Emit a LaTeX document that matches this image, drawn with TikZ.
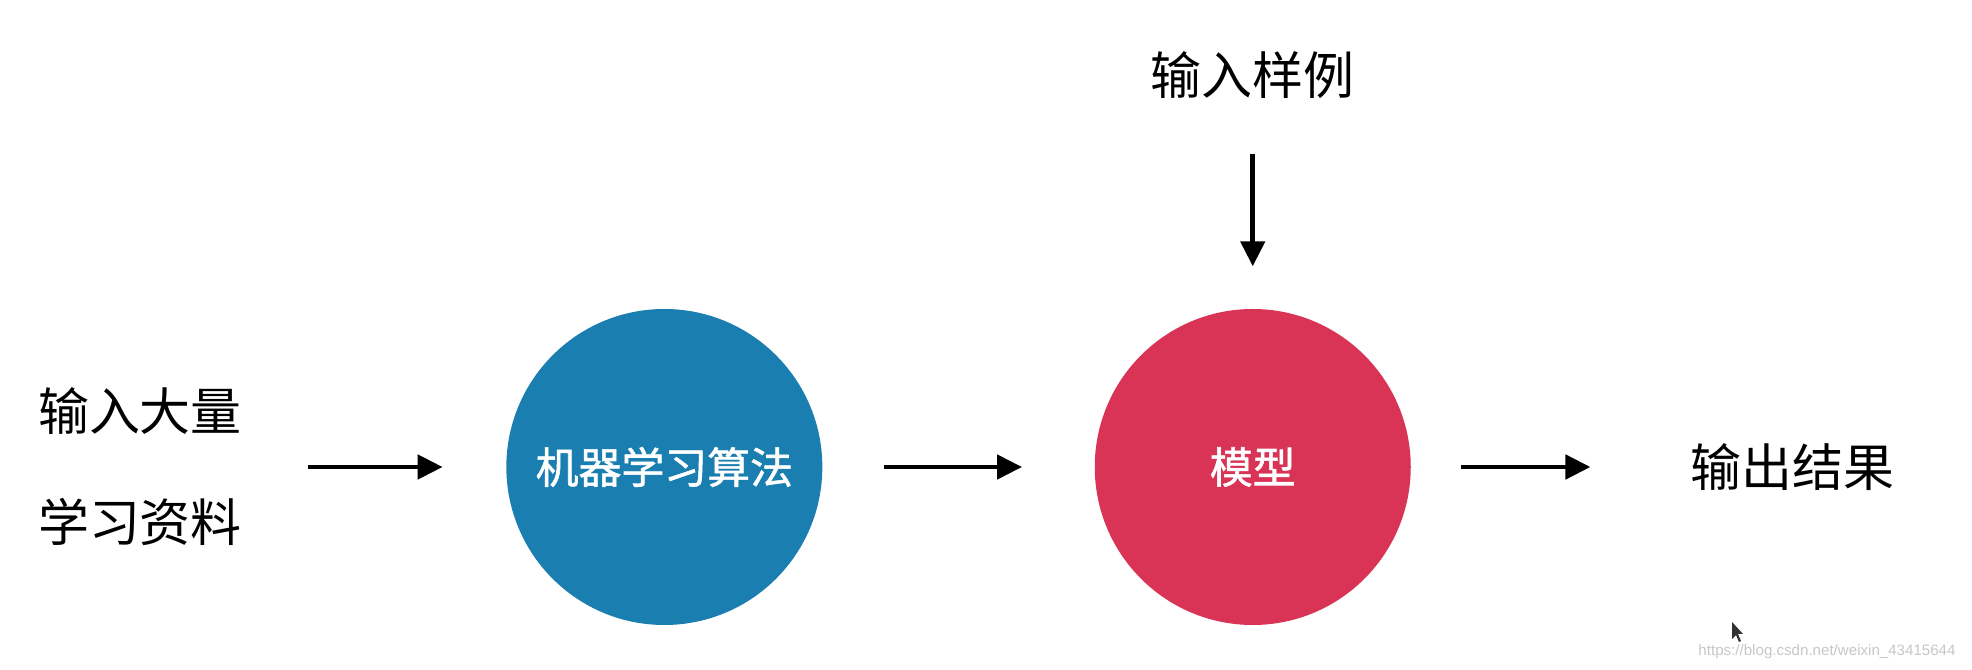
\documentclass[tikz,border=0pt]{standalone}
\usepackage{fontspec}
\setmainfont{Noto Sans CJK SC}
\newfontfamily\ballfont{Noto Sans CJK SC}[FakeBold=1.3]
\newfontfamily\urlfont{Liberation Sans}
\usetikzlibrary{positioning, arrows.meta}
\definecolor{algoblue}{RGB}{26,127,176}
\definecolor{modelred}{RGB}{217,52,86}

\begin{document}
\begin{tikzpicture}[node distance=2.7cm,
	plaintext/.style={inner sep=0pt, font=\fontsize{14.5}{31.6}\selectfont},
	ball/.style={circle, minimum size=3.16cm, inner sep=0pt, text=white, font=\ballfont\fontsize{12.2}{14}\selectfont},
	flow/.style={-{Triangle[length=2.5mm, width=2.4mm]}, line width=1.35pt}]
		\useasboundingbox (0,0) rectangle (19.72,6.70);
		%diagram
		\node[plaintext, align=center] (input) at (1.40,2.03) {输入大量\\学习资料};
		\node[ball, fill=algoblue, right=2.63cm of input] (algo) {机器学习算法};
		\node[ball, fill=modelred, right=2.71cm of algo] (model) {模型};
		\node[plaintext, right=2.78cm of model] (output) {输出结果};
		\node[plaintext, above=2.085cm of model] (sample) {输入样例};
		%arrows
		\draw[flow, shorten <=0.65cm, shorten >=0.63cm] (input) -- (algo);
		\draw[flow, shorten <=0.61cm, shorten >=0.72cm] (algo) -- (model);
		\draw[flow, shorten <=0.50cm, shorten >=0.99cm] (model) -- (output);
		\draw[flow, shorten <=0.545cm, shorten >=0.42cm] (sample) -- (model);
		%cursor and watermark
		\fill[black!80] (17.32,0.48) -- (17.32,0.31) -- (17.36,0.35) -- (17.39,0.28) -- (17.41,0.29) -- (17.38,0.36) -- (17.43,0.36) -- cycle;
		\node[inner sep=0pt, text=black!22, font=\urlfont\fontsize{4.3}{5}\selectfont] (mark) at (18.27,0.18) {https://blog.csdn.net/weixin\_43415644};
\end{tikzpicture}
\end{document}
